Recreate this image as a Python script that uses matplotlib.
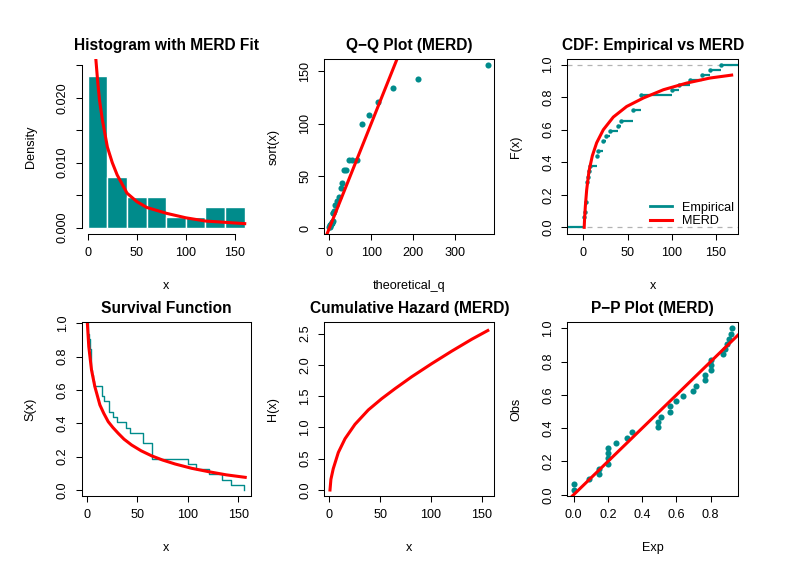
import numpy as np
import matplotlib
matplotlib.use("Agg")
import matplotlib.pyplot as plt
from matplotlib.lines import Line2D

plt.rcParams['font.family'] = ['Liberation Sans', 'DejaVu Sans']

teal = '#008B8B'
red = '#FF0000'

x_obs = [1, 1, 2, 3, 3, 4, 4, 4, 4, 5, 6, 7, 15, 15, 17, 22, 22, 26, 30, 39,
         43, 56, 56, 65, 65, 65, 100, 108, 121, 134, 143, 156]
hist_breaks = [0, 20, 40, 60, 80, 100, 120, 140, 160]

# theoretical MERD quantiles (Q-Q x positions)
qq_theoretical = [0.3, 0.8, 1.3, 1.8, 2.4, 3.0, 3.7, 4.4, 5.2, 6.0, 7.0, 8.0,
                  9.0, 10.0, 11.5, 13.0, 15.5, 19.0, 22.5, 28.0, 31.0, 36.0,
                  41.0, 47.0, 55.0, 65.0, 79.0, 94.0, 116.0, 153.0, 213.0, 378.0]

# fitted CDF at each observation (P-P x positions)
pp_exp = [0.0, 0.0, 0.088, 0.15, 0.15, 0.2, 0.2, 0.2, 0.2, 0.245, 0.31, 0.34,
          0.49, 0.49, 0.51, 0.565, 0.565, 0.60, 0.637, 0.696, 0.716, 0.77,
          0.77, 0.80, 0.80, 0.80, 0.873, 0.886, 0.898, 0.91, 0.918, 0.925]

# fitted curves
dens_x = [7.4, 10, 12, 15, 20, 25, 30, 40, 50, 60, 80, 100, 120, 140, 160]
dens_y = [0.0275, 0.0227, 0.0196, 0.0165, 0.0124, 0.0100, 0.0081, 0.0053,
          0.0040, 0.0031, 0.0022, 0.0015, 0.0010, 0.0008, 0.0006]

cdf_x = [1.0, 1.5, 2.3, 3.8, 6.4, 10.2, 15.1, 22.6, 33.9, 49, 67.8, 90.5, 116.8, 143.2, 167.7]
cdf_y = [0.0, 0.06, 0.13, 0.23, 0.345, 0.44, 0.52, 0.6, 0.678, 0.743, 0.795,
         0.846, 0.887, 0.918, 0.936]

surv_x = [0.8, 2.2, 4.9, 8.2, 13.2, 17, 21.4, 26, 31.3, 37, 44.5, 54, 64.3,
          75, 87.5, 104, 120.5, 138, 156.8]
surv_y = [1.0, 0.86, 0.72, 0.62, 0.51, 0.46, 0.41, 0.375, 0.34, 0.305, 0.27,
          0.235, 0.205, 0.18, 0.156, 0.13, 0.11, 0.091, 0.076]

haz_x = [0.7, 1.6, 3.9, 8.9, 15.5, 25.3, 38.4, 51.6, 64.7, 81.1, 100.8, 120.5, 140.2, 156]
haz_y = [0.0, 0.17, 0.34, 0.60, 0.82, 1.05, 1.28, 1.46, 1.62, 1.81, 2.02, 2.22, 2.41, 2.55]

FS = 9.1
W, H = 797, 571


def make_ax(left, top, right, bottom):
    return fig.add_axes([left / W, 1 - bottom / H, (right - left) / W, (bottom - top) / H])


def style(ax, title, xlabel, ylabel, box=True):
    ax.set_title(title, fontsize=11.2, fontweight='bold', pad=6.8)
    ax.tick_params(direction='out', length=4.3, width=0.75, labelsize=FS, pad=5.0)
    ax.tick_params(axis='y', labelrotation=90)
    for lbl in ax.get_yticklabels():
        lbl.set_va('center')
    ax.set_xlabel(xlabel, fontsize=FS)
    ax.set_ylabel(ylabel, fontsize=FS)
    ax.xaxis.label.set_va('center')
    ax.yaxis.label.set_va('center')
    ax.xaxis.set_label_coords(0.5, -52 / 175)
    ax.yaxis.set_label_coords(-51 / 170, 0.5)
    for s in ax.spines.values():
        s.set_linewidth(0.75)
    if not box:
        ax.spines['top'].set_visible(False)
        ax.spines['right'].set_visible(False)


fig = plt.figure(figsize=(7.97, 5.71), dpi=100)

cols = [(81.5, 251), (324.3, 494.3), (567.3, 738.3)]
rows = [(59, 234), (322, 496)]

# --- histogram
ax = make_ax(cols[0][0], rows[0][0], cols[0][1], rows[0][1])
xo = np.array(x_obs, dtype=float)
br = np.array(hist_breaks, dtype=float)
idx = np.searchsorted(br, xo, side='left') - 1
idx = np.clip(idx, 0, len(br) - 2)
counts = np.bincount(idx, minlength=len(br) - 1)
dens = counts / (len(xo) * np.diff(br))
ax.bar(br[:-1], dens, width=np.diff(br), align='edge', color=teal,
       edgecolor='white', linewidth=1)
ax.plot(dens_x, dens_y, color=red, lw=2.2)
ax.set_xlim(-6.4, 166.4)
ax.set_ylim(-0.001, 0.026)
ax.set_xticks([0, 50, 100, 150])
ax.set_yticks([0, 0.005, 0.010, 0.015, 0.020, 0.025])
ax.set_yticklabels(['0.000', '', '0.010', '', '0.020', ''])
ax.spines['bottom'].set_bounds(0, 150)
ax.spines['left'].set_bounds(0, 0.025)
style(ax, 'Histogram with MERD Fit', 'x', 'Density', box=False)

# --- Q-Q plot
ax = make_ax(cols[1][0], rows[0][0], cols[1][1], rows[0][1])
ax.plot(qq_theoretical, x_obs, 'o', color=teal, ms=4.4, mec='none')
ax.axline((0, 0), slope=1, color=red, lw=2.2)
ax.set_xlim(-11.9, 394)
ax.set_ylim(-5.4, 161.8)
ax.set_xticks([0, 100, 200, 300])
ax.set_yticks([0, 50, 100, 150])
style(ax, 'Q\u2212Q Plot (MERD)', 'theoretical_q', 'sort(x)')

# --- CDF
ax = make_ax(cols[2][0], rows[0][0], cols[2][1], rows[0][1])
xlo, xhi = -18.1, 175.2
u, cnt = np.unique(xo, return_counts=True)
F = np.cumsum(cnt) / len(xo)
ax.axhline(0, color='#B3B3B3', lw=0.9, ls=(0, (4, 4)))
ax.axhline(1, color='#B3B3B3', lw=0.9, ls=(0, (4, 4)))
ax.hlines([0], [xlo], [u[0]], color=teal, lw=1.6)
ax.hlines(F, u, np.r_[u[1:], xhi], color=teal, lw=1.6)
ax.plot(u, F, 'o', color=teal, ms=3.2, mec='none')
ax.plot(cdf_x, cdf_y, color=red, lw=2.2)
ax.set_xlim(xlo, xhi)
ax.set_ylim(-0.041, 1.035)
ax.set_xticks([0, 50, 100, 150])
ax.set_yticks([0, 0.2, 0.4, 0.6, 0.8, 1.0])
ax.set_yticklabels(['0.0', '0.2', '0.4', '0.6', '0.8', '1.0'])
style(ax, 'CDF: Empirical vs MERD', 'x', 'F(x)')
handles = [Line2D([], [], color=teal, lw=2.0), Line2D([], [], color=red, lw=2.2)]
ax.legend(handles, ['Empirical', 'MERD'], loc='lower right', frameon=False,
          fontsize=FS, bbox_to_anchor=(0.975, 0.04), borderpad=0, borderaxespad=0,
          handlelength=1.75, handletextpad=0.8, labelspacing=0.1)

# --- Survival
ax = make_ax(cols[0][0], rows[1][0], cols[0][1], rows[1][1])
S = 1 - F
ax.step(np.r_[u[0], u], np.r_[1.0, S], where='post', color=teal, lw=1.0)
ax.plot(surv_x, surv_y, color=red, lw=2.2)
ax.set_xlim(-5, 162.5)
ax.set_ylim(-0.036, 1.008)
ax.set_xticks([0, 50, 100, 150])
ax.set_yticks([0, 0.2, 0.4, 0.6, 0.8, 1.0])
ax.set_yticklabels(['0.0', '0.2', '0.4', '0.6', '0.8', '1.0'])
style(ax, 'Survival Function', 'x', 'S(x)')

# --- Cumulative hazard
ax = make_ax(cols[1][0], rows[1][0], cols[1][1], rows[1][1])
ax.plot(haz_x, haz_y, color=red, lw=2.2)
ax.set_xlim(-4.9, 162.4)
ax.set_ylim(-0.096, 2.686)
ax.set_xticks([0, 50, 100, 150])
ax.set_yticks([0, 0.5, 1.0, 1.5, 2.0, 2.5])
ax.set_yticklabels(['0.0', '0.5', '1.0', '1.5', '2.0', '2.5'])
style(ax, 'Cumulative Hazard (MERD)', 'x', 'H(x)')

# --- P-P plot
ax = make_ax(cols[2][0], rows[1][0], cols[2][1], rows[1][1])
obs = np.arange(1, len(xo) + 1) / len(xo)
ax.plot(pp_exp, obs, 'o', color=teal, ms=4.4, mec='none')
ax.axline((0, 0), slope=1, color=red, lw=2.2)
ax.set_xlim(-0.037, 0.962)
ax.set_ylim(-0.0075, 1.039)
ax.set_xticks([0, 0.2, 0.4, 0.6, 0.8])
ax.set_xticklabels(['0.0', '0.2', '0.4', '0.6', '0.8'])
ax.set_yticks([0, 0.2, 0.4, 0.6, 0.8, 1.0])
ax.set_yticklabels(['0.0', '0.2', '0.4', '0.6', '0.8', '1.0'])
style(ax, 'P\u2212P Plot (MERD)', 'Exp', 'Obs')

fig.savefig('out.png', dpi=100)
